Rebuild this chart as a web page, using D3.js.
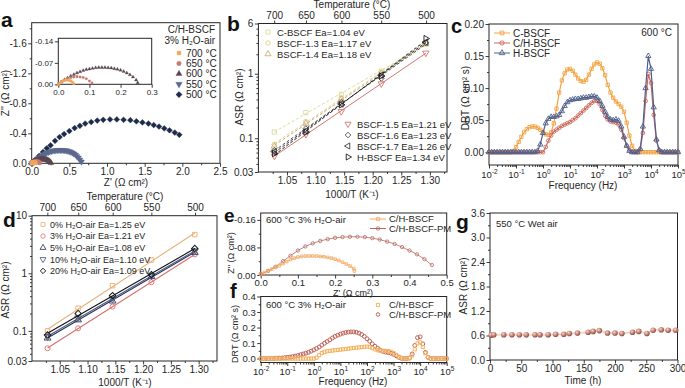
<!DOCTYPE html>
<html>
<head>
<meta charset="utf-8">
<script src="https://cdn.jsdelivr.net/npm/d3@7"></script>
<style>
  body { margin: 0; background: #fff; }
  svg { display: block; }
</style>
</head>
<body>
<div id="fig"></div>
<script>
// ---------- data ----------

// (a) Nyquist plots, C/H-BSCF in 3% H2O-air: Z' and -Z''
const a700x = [0, 0.005, 0.01, 0.015, 0.02, 0.025, 0.03, 0.035, 0.04, 0.045, 0.05];
const a700y = [0, 0.004, 0.008, 0.011, 0.013, 0.014, 0.014, 0.013, 0.011, 0.007, 0.002];
const a650x = [0, 0.01, 0.02, 0.03, 0.04, 0.05, 0.06, 0.07, 0.08, 0.09, 0.10, 0.108];
const a650y = [0, 0.008, 0.014, 0.019, 0.022, 0.024, 0.025, 0.024, 0.022, 0.018, 0.011, 0.004];
const a600x = [0, 0.01, 0.02, 0.03, 0.04, 0.05, 0.06, 0.07, 0.08, 0.09, 0.10, 0.11, 0.12, 0.13, 0.14, 0.15, 0.16, 0.17, 0.18, 0.19, 0.20, 0.21, 0.22, 0.23, 0.24, 0.25, 0.255];
const a600y = [0, 0.008, 0.015, 0.021, 0.027, 0.032, 0.037, 0.041, 0.045, 0.048, 0.050, 0.052, 0.054, 0.055, 0.055, 0.055, 0.054, 0.053, 0.051, 0.049, 0.046, 0.042, 0.037, 0.031, 0.024, 0.014, 0.005];
const a550x = [0, 0.02, 0.04, 0.06, 0.08, 0.10, 0.12, 0.14, 0.16, 0.18, 0.20, 0.22, 0.24, 0.26, 0.28, 0.30, 0.32, 0.34, 0.36, 0.38, 0.40, 0.42, 0.44, 0.46, 0.48, 0.50, 0.52, 0.54, 0.56, 0.58, 0.60, 0.62, 0.64, 0.66];
const a550y = [0, 0.015, 0.03, 0.045, 0.06, 0.075, 0.09, 0.105, 0.118, 0.13, 0.14, 0.148, 0.155, 0.161, 0.166, 0.17, 0.172, 0.174, 0.175, 0.175, 0.175, 0.174, 0.172, 0.169, 0.164, 0.158, 0.15, 0.14, 0.128, 0.113, 0.095, 0.073, 0.047, 0.02];
const a500x = [0.00, 0.05, 0.10, 0.15, 0.20, 0.25, 0.31, 0.37, 0.43, 0.50, 0.57, 0.64, 0.71, 0.79, 0.87, 0.95, 1.04, 1.13, 1.22, 1.31, 1.39, 1.47, 1.55, 1.62, 1.69, 1.76, 1.83, 1.90, 1.96];
const a500y = [0.00, 0.05, 0.10, 0.15, 0.20, 0.24, 0.30, 0.35, 0.39, 0.43, 0.47, 0.50, 0.53, 0.55, 0.57, 0.58, 0.585, 0.585, 0.58, 0.575, 0.56, 0.545, 0.53, 0.51, 0.49, 0.465, 0.44, 0.41, 0.38];
const aLabels = ["700 °C", "650 °C", "600 °C", "550 °C", "500 °C"];

// (b), (d) Arrhenius plots
const tempC = [700, 650, 600, 550, 500];
const invT = [1.028, 1.083, 1.145, 1.215, 1.293];
const bCBSCF = [0.125, 0.25, 0.48, 1.10, 2.9];
const bBSCF13 = [0.08, 0.18, 0.42, 1.05, 3.0];
const bBSCF14 = [0.075, 0.17, 0.40, 1.00, 2.9];
const bBSCF15 = [0.053, 0.115, 0.26, 0.70, 2.1];
const bBSCF16 = [0.065, 0.14, 0.36, 0.85, 3.0];
const bBSCF17 = [0.062, 0.13, 0.34, 0.95, 3.1];
const bHBSCF = [0.058, 0.125, 0.33, 0.92, 3.5];
const bLabels = ["C-BSCF Ea=1.04 eV", "BSCF-1.3 Ea=1.17 eV", "BSCF-1.4 Ea=1.18 eV", "BSCF-1.5 Ea=1.21 eV",
  "BSCF-1.6 Ea=1.23 eV", "BSCF-1.7 Ea=1.26 eV", "H-BSCF Ea=1.34 eV"];

const dH2O0 = [0.10, 0.247, 0.61, 1.70, 4.7];
const dH2O3 = [0.05, 0.111, 0.264, 0.70, 2.13];
const dH2O5 = [0.075, 0.155, 0.33, 0.88, 2.3];
const dH2O10 = [0.08, 0.168, 0.36, 0.90, 2.45];
const dH2O20 = [0.085, 0.20, 0.41, 0.95, 2.7];
const dLabels = ["0% H₂O-air Ea=1.25 eV", "3% H₂O-air Ea=1.21 eV", "5% H₂O-air Ea=1.08 eV",
  "10% H₂O-air Ea=1.10 eV", "20% H₂O-air Ea=1.09 eV"];

// (c), (f) DRT, log10 frequency grid
const logF = [-2.0, -1.9, -1.8, -1.7, -1.6, -1.5, -1.4, -1.3, -1.2, -1.1, -1.0, -0.9, -0.8, -0.7, -0.6, -0.5, -0.4, -0.3, -0.2, -0.1,
  0.0, 0.1, 0.2, 0.3, 0.4, 0.5, 0.6, 0.7, 0.8, 0.9, 1.0, 1.1, 1.2, 1.3, 1.4, 1.5, 1.6, 1.7, 1.8, 1.9,
  2.0, 2.1, 2.2, 2.3, 2.4, 2.5, 2.6, 2.7, 2.8, 2.9, 3.0, 3.1, 3.2, 3.3, 3.4, 3.5, 3.6, 3.7, 3.8, 3.9,
  4.0, 4.1, 4.2, 4.3, 4.4, 4.5, 4.6, 4.7, 4.8, 4.9, 5.0];
const cC = [0, 0, 0, 0, 0, 0, 0, 0, 0,
  0.002, 0.008, 0.016, 0.024, 0.031, 0.036, 0.039, 0.040, 0.040, 0.038,
  0.035, 0.031, 0.028, 0.027, 0.031, 0.045, 0.068, 0.093, 0.112, 0.123,
  0.129, 0.130, 0.127, 0.121, 0.115, 0.111, 0.110, 0.113, 0.121, 0.130,
  0.137, 0.140, 0.138, 0.131, 0.120, 0.105, 0.093, 0.085, 0.079, 0.075,
  0.071, 0.063, 0.046, 0.026, 0.010, 0.002,
  0, 0, 0, 0, 0, 0, 0, 0, 0, 0, 0, 0, 0, 0, 0, 0];
const cCH = [0, 0, 0, 0, 0, 0, 0, 0, 0, 0, 0, 0, 0, 0, 0, 0, 0, 0, 0, 0, 0,
  0.008, 0.018, 0.026, 0.032, 0.035, 0.038, 0.041, 0.043, 0.045, 0.047,
  0.050, 0.053, 0.057, 0.061, 0.065, 0.069, 0.073, 0.077, 0.080, 0.080,
  0.075, 0.066, 0.057, 0.051, 0.048, 0.047, 0.046, 0.043, 0.035, 0.022,
  0.010, 0.003, 0, 0, 0, 0.004, 0.030, 0.080, 0.122, 0.108,
  0.058, 0.018, 0.003,
  0, 0, 0, 0, 0, 0, 0];
const cH = [0, 0, 0, 0, 0, 0, 0, 0, 0, 0, 0, 0, 0, 0, 0, 0, 0, 0,
  0.002, 0.012, 0.030, 0.045, 0.052, 0.055, 0.055, 0.056, 0.058, 0.064,
  0.072, 0.078, 0.081, 0.082, 0.083, 0.083, 0.084, 0.085, 0.085, 0.086,
  0.087, 0.087, 0.085, 0.080, 0.072, 0.063, 0.055, 0.051, 0.050, 0.051,
  0.049, 0.040, 0.024, 0.010, 0.002, 0, 0, 0, 0.005, 0.040,
  0.100, 0.150, 0.130, 0.070, 0.020, 0.003,
  0, 0, 0, 0, 0, 0, 0];
const cLabels = ["C-BSCF", "C/H-BSCF", "H-BSCF"];

const fCH = [0, 0, 0, 0, 0, 0, 0, 0, 0, 0, 0, 0, 0, 0, 0, 0, 0, 0, 0, 0, 0,
  0.006, 0.022, 0.036, 0.043, 0.047, 0.050, 0.052, 0.054, 0.056, 0.058,
  0.060, 0.062, 0.064, 0.066, 0.068, 0.070, 0.072, 0.074, 0.076, 0.077,
  0.075, 0.068, 0.060, 0.054, 0.051, 0.050, 0.050, 0.049, 0.044, 0.036,
  0.024, 0.012, 0.004, 0, 0, 0.003, 0.020, 0.060, 0.098, 0.105,
  0.075, 0.035, 0.008,
  0, 0, 0, 0, 0, 0, 0];
const fPM = [0, 0, 0, 0, 0, 0,
  0.002, 0.003, 0.004, 0.006, 0.008, 0.010, 0.013, 0.016, 0.020, 0.025,
  0.030, 0.035, 0.041, 0.048, 0.056, 0.065, 0.075, 0.087, 0.099, 0.110,
  0.121, 0.133, 0.143, 0.151, 0.158, 0.164, 0.168, 0.171, 0.172, 0.172,
  0.170, 0.164, 0.155, 0.143, 0.128, 0.112, 0.095, 0.080, 0.066, 0.055,
  0.047, 0.042, 0.039, 0.035, 0.028, 0.018, 0.008, 0.002, 0, 0,
  0.004, 0.030, 0.085, 0.135, 0.140, 0.095, 0.040, 0.008,
  0, 0, 0, 0, 0, 0, 0];
const efLabels = ["C/H-BSCF", "C/H-BSCF-PM"];

// (e) Nyquist, 600 °C: Z' and -Z''
const eCHx = [0, 0.01, 0.02, 0.03, 0.04, 0.05, 0.06, 0.07, 0.08, 0.09, 0.10, 0.11, 0.12, 0.13, 0.14, 0.15, 0.16, 0.17, 0.18, 0.19, 0.20, 0.21, 0.22, 0.23, 0.24, 0.25, 0.252];
const eCHy = [0.002, 0.007, 0.012, 0.017, 0.022, 0.027, 0.033, 0.039, 0.045, 0.049, 0.052, 0.054, 0.055, 0.055, 0.055, 0.055, 0.054, 0.053, 0.051, 0.049, 0.046, 0.042, 0.037, 0.032, 0.026, 0.019, 0.012];
const ePMx = [0, 0.02, 0.04, 0.06, 0.08, 0.10, 0.12, 0.14, 0.16, 0.18, 0.20, 0.22, 0.24, 0.26, 0.28, 0.30, 0.32, 0.34, 0.36, 0.38, 0.40, 0.42, 0.44, 0.46];
const ePMy = [0.003, 0.012, 0.024, 0.040, 0.056, 0.071, 0.083, 0.092, 0.099, 0.104, 0.108, 0.110, 0.111, 0.111, 0.110, 0.107, 0.103, 0.097, 0.090, 0.081, 0.071, 0.060, 0.046, 0.029];

// (g) stability at 550 °C in wet air
const gTime = [2, 6, 22, 35, 47, 58, 72, 80, 93, 105, 118, 127, 140, 157, 165, 175, 188, 200, 211, 228, 238, 251, 261, 274, 285, 297];
const gASR = [0.61, 0.62, 0.62, 0.62, 0.62, 0.62, 0.62, 0.62, 0.62, 0.63, 0.63, 0.65, 0.66, 0.68, 0.70, 0.72, 0.66, 0.66, 0.65, 0.68, 0.70, 0.65, 0.73, 0.74, 0.73, 0.73];

// ---------- helpers ----------
const INK = "#262626";
const svg = d3.select("#fig").append("svg")
  .attr("width", 685).attr("height", 388)
  .style("font-family", '"Liberation Sans", Arial, Helvetica, sans-serif');

function axis(gen, tr, fs = 10) {
  const g = svg.append("g").attr("transform", tr).call(gen);
  g.attr("font-family", null);
  g.select(".domain").remove();
  g.selectAll("line").attr("stroke", INK).attr("stroke-width", 0.9);
  g.selectAll("text").attr("fill", INK).attr("font-size", fs);
  return g;
}

function box(sx, sy) {
  const [x0, x1] = sx.range(), [y0, y1] = sy.range();
  svg.append("rect").attr("x", x0).attr("y", y1).attr("width", x1 - x0).attr("height", y0 - y1)
    .attr("fill", "none").attr("stroke", INK).attr("stroke-width", 1);
}

function linAxis(orient, scale, pos, major, minor, fmt, fs = 10) {
  const mk = orient === "bottom" ? d3.axisBottom : d3.axisLeft;
  const tr = orient === "bottom" ? `translate(0,${pos})` : `translate(${pos},0)`;
  if (minor) axis(mk(scale).tickValues(minor).tickSize(2).tickFormat(""), tr);
  return axis(mk(scale).tickValues(major).tickSize(3.5).tickPadding(1.5).tickFormat(fmt), tr, fs);
}

function logXAxis(sx, y0) {
  const minor = [];
  for (let e = -2; e < 5; e++) for (let m = 2; m < 10; m++) minor.push(m * 10 ** e);
  axis(d3.axisBottom(sx).tickValues(minor).tickSize(2).tickFormat(""), `translate(0,${y0})`);
  const g = axis(d3.axisBottom(sx).tickValues([-2, -1, 0, 1, 2, 3, 4, 5].map(e => 10 ** e))
    .tickSize(3.5).tickFormat(""), `translate(0,${y0})`);
  g.selectAll(".tick").append("text")
    .attr("y", 12.5).attr("text-anchor", "middle").attr("fill", INK).attr("font-size", 9.5)
    .each(function(d) {
      const t = d3.select(this);
      t.append("tspan").text("10");
      t.append("tspan").attr("dy", -4).attr("font-size", 6.5).text(Math.round(Math.log10(d)));
    });
}

function tempAxis(sx, y0) {
  axis(d3.axisTop(sx).tickValues(tempC.map(t => 1000 / (t + 273.15)))
    .tickSize(3).tickPadding(2).tickFormat((d, i) => tempC[i]), `translate(0,${y0})`);
}

function logYAxis(sy, x0, major, minor) {
  axis(d3.axisLeft(sy).tickValues(minor).tickSize(2).tickFormat(""), `translate(${x0},0)`);
  axis(d3.axisLeft(sy).tickValues(major).tickSize(3.5).tickPadding(1.5).tickFormat(d => String(d)), `translate(${x0},0)`);
}

function txt(x, y, s, o = {}) {
  return svg.append("text").attr("x", x).attr("y", y)
    .attr("font-size", o.size || 10).attr("fill", o.fill || INK)
    .attr("text-anchor", o.anchor || "start")
    .attr("font-weight", o.bold ? "bold" : null).text(s);
}

function ylab(x, y, s, size = 10) {
  svg.append("text").attr("transform", `translate(${x},${y}) rotate(-90)`)
    .attr("text-anchor", "middle").attr("font-size", size).attr("fill", INK).text(s);
}

const SHAPE = {
  square: [d3.symbolSquare, 0], circle: [d3.symbolCircle, 0],
  up: [d3.symbolTriangle, 0], down: [d3.symbolTriangle, 180],
  left: [d3.symbolTriangle, -90], right: [d3.symbolTriangle, 90],
  diamond: [d3.symbolSquare, 45]
};

function marker(x, y, o) {
  const [t, r] = SHAPE[o.shape];
  svg.append("path").attr("d", d3.symbol(t, o.size)())
    .attr("transform", `translate(${x},${y}) rotate(${r})`)
    .attr("fill", o.filled ? o.color : "none").attr("stroke", o.color).attr("stroke-width", o.sw || 0.9);
}

function series(sx, sy, xs, ys, o) {
  const g = svg.append("g");
  if (o.line) {
    g.append("path").attr("d", d3.line().x((d, i) => sx(xs[i])).y(d => sy(d))(ys))
      .attr("fill", "none").attr("stroke", o.color).attr("stroke-width", o.lw || 1);
  }
  const [t, r] = SHAPE[o.shape];
  g.selectAll(null).data(ys).join("path")
    .attr("d", d3.symbol(t, o.size)())
    .attr("transform", (d, i) => `translate(${sx(xs[i])},${sy(d)}) rotate(${r})`)
    .attr("fill", o.filled ? o.color : "none")
    .attr("stroke", o.color).attr("stroke-width", o.sw || 0.9);
  return g;
}

function fitLine(xs, ys) {
  const ly = ys.map(Math.log10), mx = d3.mean(xs), my = d3.mean(ly);
  const k = d3.sum(xs, (x, i) => (x - mx) * (ly[i] - my)) / d3.sum(xs, x => (x - mx) ** 2);
  return x => 10 ** (my + k * (x - mx));
}

// ---------- (a) ----------
const ax = d3.scaleLinear([0, 2.5], [31.7, 220]);
const ay = d3.scaleLinear([0, 1.875], [163.3, 22.7]);
box(ax, ay);
linAxis("bottom", ax, 163.3, [0, 0.5, 1, 1.5, 2, 2.5], [0.25, 0.75, 1.25, 1.75, 2.25], d3.format(".1f"));
linAxis("left", ay, 31.7, [0, 0.4, 0.8, 1.2, 1.6], [0.2, 0.6, 1.0, 1.4, 1.8], v => v ? "-" + d3.format(".1f")(v) : "0.0");
txt(126, 186, "Z' (Ω cm²)", { anchor: "middle" });
ylab(9, 93, "Z'' (Ω cm²)");

const aStyle = [
  { shape: "square", size: 12, color: "#f2a65a", filled: true, sw: 0.4 },
  { shape: "circle", size: 14, color: "#c47a6e", filled: true, sw: 0.4 },
  { shape: "up", size: 14, color: "#5a4652", filled: true, sw: 0.4 },
  { shape: "down", size: 16, color: "#5b6a8e", filled: true, sw: 0.4 },
  { shape: "diamond", size: 17, color: "#1d2a4a", filled: true, sw: 0.4 }
];
const aData = [[a700x, a700y], [a650x, a650y], [a600x, a600y], [a550x, a550y], [a500x, a500y]];
for (let i = 4; i >= 0; i--) series(ax, ay, aData[i][0], aData[i][1], aStyle[i]);

// inset
const ix = d3.scaleLinear([0, 0.3], [58.3, 151.7]);
const iy = d3.scaleLinear([0, 0.15], [84.3, 38.3]);
box(ix, iy);
linAxis("bottom", ix, 84.3, [0, 0.1, 0.2, 0.3], null, d3.format(".1f"), 8);
linAxis("left", iy, 58.3, [0, 0.07, 0.14], null, v => v ? "-" + d3.format(".2f")(v) : "0.00", 8);
for (let i = 2; i >= 0; i--) {
  series(ix, iy, aData[i][0], aData[i][1], { ...aStyle[i], size: 5, sw: 0.3 });
}

// legend
txt(215, 33, "C/H-BSCF", { anchor: "end" });
txt(215, 44, "3% H₂O-air", { anchor: "end" });
aLabels.forEach((s, i) => {
  const y = 53 + i * 10.4;
  marker(179, y, { ...aStyle[i], size: aStyle[i].size + 2 });
  txt(186, y + 3.5, s);
});
txt(1, 27, "a", { size: 21, bold: true, fill: "#111" });

// ---------- (b) ----------
const bx = d3.scaleLinear([1.0, 1.33], [258.4, 447]);
const by = d3.scaleLog([0.03, 6], [172, 23.5]);
box(bx, by);
linAxis("bottom", bx, 172, [1.05, 1.10, 1.15, 1.20, 1.25, 1.30], [1.025, 1.075, 1.125, 1.175, 1.225, 1.275, 1.325], d3.format(".2f"));
logYAxis(by, 258.4, [0.03, 0.1, 1, 6],
  [0.04, 0.05, 0.06, 0.07, 0.08, 0.09, 0.2, 0.3, 0.4, 0.5, 0.6, 0.7, 0.8, 0.9, 2, 3, 4, 5]);
tempAxis(bx, 23.5);
txt(352, 8, "Temperature (°C)", { anchor: "middle" });
txt(352, 198, "1000/T (K⁻¹)", { anchor: "middle" });
ylab(243, 97, "ASR (Ω cm²)");

const bSeries = [bCBSCF, bBSCF13, bBSCF14, bBSCF15, bBSCF16, bBSCF17, bHBSCF];
const bStyle = [
  { shape: "square", color: "#d9dd9c" },
  { shape: "circle", color: "#e2cf86" },
  { shape: "up", color: "#c6b077" },
  { shape: "down", color: "#d0786f", solid: true },
  { shape: "diamond", color: "#5e5458" },
  { shape: "left", color: "#3a3a40" },
  { shape: "right", color: "#1d1d22" }
];
bSeries.forEach((vals, i) => {
  const st = bStyle[i], f = fitLine(invT, vals);
  svg.append("path")
    .attr("d", d3.line().x(d => bx(d)).y(d => by(f(d)))([invT[0], invT[4]]))
    .attr("fill", "none").attr("stroke", st.color).attr("stroke-width", 1)
    .attr("stroke-dasharray", st.solid ? null : "3,2");
  series(bx, by, invT, vals, { shape: st.shape, size: 18, color: st.color, sw: 0.9 });
});
bLabels.forEach((s, i) => {
  const x = i < 3 ? 268 : 348, y = i < 3 ? 32 + i * 11 : 124 + (i - 3) * 11;
  marker(x, y, { shape: bStyle[i].shape, size: 16, color: bStyle[i].color });
  txt(x + 9, y + 3.5, s, { size: 9.5 });
});
txt(227, 31, "b", { size: 21, bold: true, fill: "#111" });

// ---------- (c) ----------
const cx = d3.scaleLog([1e-2, 1e5], [489, 678]);
const cy = d3.scaleLinear([-0.02, 0.2], [165, 24]);
box(cx, cy);
logXAxis(cx, 165);
linAxis("left", cy, 489, [0, 0.05, 0.10, 0.15, 0.20], [0.025, 0.075, 0.125, 0.175], d3.format(".2f"));
txt(583, 189, "Frequency (Hz)", { anchor: "middle" });
ylab(469, 98, "DRT (Ω cm² s)");
const freq = logF.map(v => 10 ** v);
const cStyle = [
  { shape: "square", size: 11, color: "#f2a444", line: true, lw: 1.2 },
  { shape: "circle", size: 11, color: "#cc6a5e", line: true, lw: 1.2 },
  { shape: "up", size: 12, color: "#4f5f8a", line: true, lw: 1.2 }
];
[cC, cCH, cH].forEach((vals, i) => series(cx, cy, freq, vals, cStyle[i]));
cLabels.forEach((s, i) => {
  const y = 33 + i * 10;
  svg.append("line").attr("x1", 494).attr("x2", 510).attr("y1", y).attr("y2", y)
    .attr("stroke", cStyle[i].color).attr("stroke-width", 1);
  marker(502, y, { shape: cStyle[i].shape, size: 14, color: cStyle[i].color });
  txt(513, y + 3.5, s);
});
txt(672, 36, "600 °C", { anchor: "end" });
txt(451, 33, "c", { size: 20, bold: true, fill: "#111" });

// ---------- (d) ----------
const dx = d3.scaleLinear([1.0, 1.333], [32, 217]);
const dy = d3.scaleLog([0.03, 10], [361, 215.7]);
box(dx, dy);
linAxis("bottom", dx, 361, [1.05, 1.10, 1.15, 1.20, 1.25, 1.30], [1.025, 1.075, 1.125, 1.175, 1.225, 1.275, 1.325], d3.format(".2f"));
logYAxis(dy, 32, [0.03, 0.1, 1, 10],
  [0.04, 0.05, 0.06, 0.07, 0.08, 0.09, 0.2, 0.3, 0.4, 0.5, 0.6, 0.7, 0.8, 0.9, 2, 3, 4, 5, 6, 7, 8, 9]);
tempAxis(dx, 215.7);
txt(125, 200, "Temperature (°C)", { anchor: "middle" });
txt(125, 386, "1000/T (K⁻¹)", { anchor: "middle" });
ylab(9, 290, "ASR (Ω cm²)");
const dStyle = [
  { shape: "square", color: "#f0b37a", lc: "#e9b07a" },
  { shape: "circle", color: "#e07b7a", lc: "#d86f70" },
  { shape: "up", color: "#3b4566", lc: "#26325a" },
  { shape: "down", color: "#56627f", lc: "#4c5a7c" },
  { shape: "diamond", color: "#1a1a1a", lc: "#111" }
];
[dH2O0, dH2O3, dH2O5, dH2O10, dH2O20].forEach((vals, i) => {
  const f = fitLine(invT, vals);
  svg.append("path")
    .attr("d", d3.line().x(d => dx(d)).y(d => dy(f(d)))([invT[0], invT[4]]))
    .attr("fill", "none").attr("stroke", dStyle[i].lc).attr("stroke-width", 1.1);
  series(dx, dy, invT, vals, { shape: dStyle[i].shape, size: 20, color: dStyle[i].color, sw: 1 });
});
dLabels.forEach((s, i) => {
  const y = 224.5 + i * 11.6;
  marker(43, y, { shape: dStyle[i].shape, size: 15, color: dStyle[i].color });
  txt(50, y + 3.3, s, { size: 9 });
});
txt(3, 227, "d", { size: 21, bold: true, fill: "#111" });

// ---------- (e) ----------
const ex = d3.scaleLinear([0, 0.5], [260.7, 446.7]);
const ey = d3.scaleLinear([0, 0.18], [275, 213]);
box(ex, ey);
const exAx = linAxis("bottom", ex, 275, [0, 0.1, 0.2, 0.3, 0.4, 0.5], [0.05, 0.15, 0.25, 0.35, 0.45], d3.format(".1f"), 9.5);
exAx.selectAll("text").attr("dy", "0.62em");
linAxis("left", ey, 260.7, [0, 0.08, 0.16], [0.04, 0.12], v => v ? "-" + d3.format(".2f")(v) : "0.00", 9.5);
txt(353, 295.5, "Z' (Ω cm²)", { anchor: "middle", size: 9 });
ylab(234, 253, "Z'' (Ω cm²)", 9);
const efStyle = [
  { shape: "square", size: 7, color: "#f0a860", line: true, lw: 0.8, sw: 0.8 },
  { shape: "circle", size: 9, color: "#b86a60", line: true, lw: 0.8, sw: 0.8 }
];
series(ex, ey, ePMx, ePMy, efStyle[1]);
series(ex, ey, eCHx, eCHy, efStyle[0]);
txt(266, 223, "600 °C  3% H₂O-air", { size: 9.5 });
efLabels.forEach((s, i) => {
  const y = 219 + i * 9.5;
  svg.append("line").attr("x1", 370).attr("x2", 386).attr("y1", y).attr("y2", y)
    .attr("stroke", efStyle[i].color).attr("stroke-width", 1);
  marker(378, y, { ...efStyle[i], size: 10 });
  txt(389, y + 3.3, s, { size: 9.5 });
});
txt(224, 222, "e", { size: 19, bold: true, fill: "#111" });

// ---------- (f) ----------
const fx = d3.scaleLog([1e-2, 1e5], [260.7, 446.7]);
const fy = d3.scaleLinear([-0.025, 0.4], [362.5, 296.5]);
box(fx, fy);
logXAxis(fx, 362.5);
linAxis("left", fy, 260.7, [0, 0.1, 0.2, 0.3, 0.4], [0.05, 0.15, 0.25, 0.35], d3.format(".1f"), 9.5);
txt(353, 385, "Frequency (Hz)", { anchor: "middle" });
ylab(238, 334, "DRT (Ω cm² s)", 9);
const fStyle = [
  { shape: "square", size: 10, color: "#f5b35e", sw: 1 },
  { shape: "circle", size: 12, color: "#c0635a", sw: 1 }
];
series(fx, fy, freq, fPM, fStyle[1]);
series(fx, fy, freq, fCH, fStyle[0]);
txt(266, 308, "600 °C  3% H₂O-air", { size: 9.5 });
efLabels.forEach((s, i) => {
  const y = 305 + i * 9.5;
  marker(378, y, { ...fStyle[i], size: 10 });
  txt(389, y + 3.3, s, { size: 9.5 });
});
txt(230, 298, "f", { size: 20, bold: true, fill: "#111" });

// ---------- (g) ----------
const gx = d3.scaleLinear([0, 300], [490, 677.5]);
const gy = d3.scaleLinear([0, 3.6], [360, 213]);
box(gx, gy);
linAxis("bottom", gx, 360, [0, 50, 100, 150, 200, 250, 300], [25, 75, 125, 175, 225, 275], d3.format("d"));
linAxis("left", gy, 490, [0, 0.6, 1.2, 1.8, 2.4, 3.0, 3.6], [0.3, 0.9, 1.5, 2.1, 2.7, 3.3], d3.format(".1f"));
txt(583, 384, "Time (h)", { anchor: "middle" });
ylab(467, 286, "ASR (Ω cm²)");
txt(496, 227, "550 °C Wet air", { size: 9.5 });
const grad = svg.append("defs").append("radialGradient").attr("id", "ball")
  .attr("cx", "38%").attr("cy", "35%").attr("r", "65%");
grad.append("stop").attr("offset", "0%").attr("stop-color", "#f3d9cf");
grad.append("stop").attr("offset", "55%").attr("stop-color", "#c98676");
grad.append("stop").attr("offset", "100%").attr("stop-color", "#8a4d45");
svg.append("path")
  .attr("d", d3.line().x((d, i) => gx(gTime[i])).y(d => gy(d))(gASR))
  .attr("fill", "none").attr("stroke", "#f3d6cc").attr("stroke-width", 2);
svg.append("g").selectAll("circle").data(gASR).join("circle")
  .attr("cx", (d, i) => gx(gTime[i])).attr("cy", d => gy(d)).attr("r", 2.8)
  .attr("fill", "url(#ball)");
txt(456, 229, "g", { size: 21, bold: true, fill: "#111" });
</script>
</body>
</html>
